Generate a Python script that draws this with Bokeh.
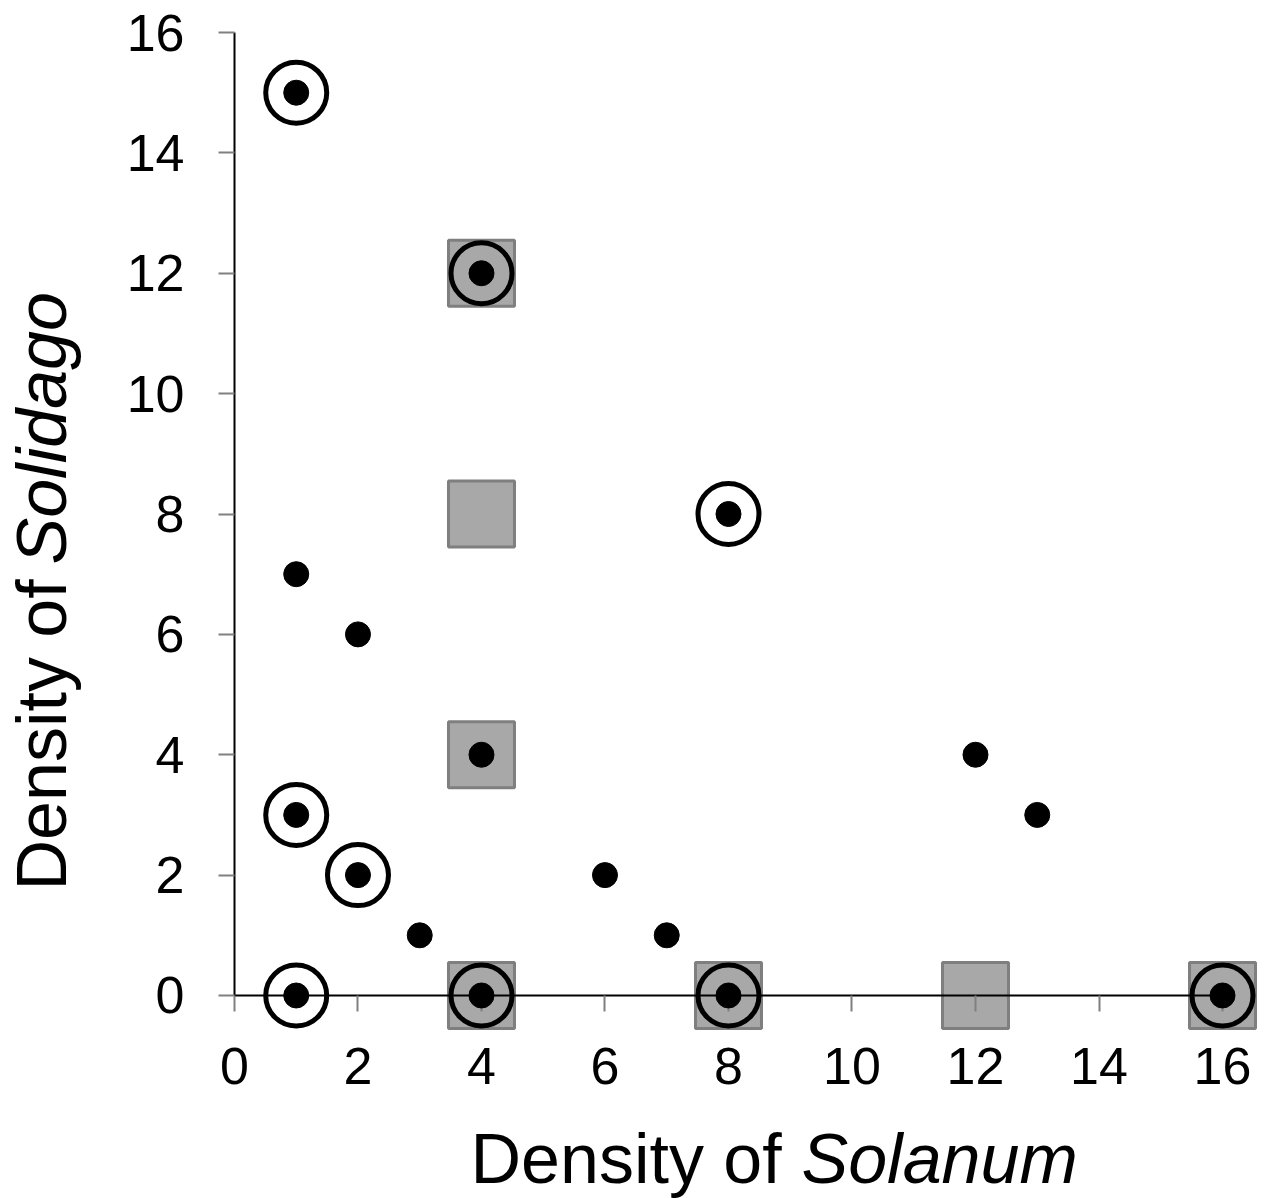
import math
from bokeh.plotting import figure
from bokeh.models import LinearAxis, FixedTicker, Range1d, Label
from bokeh.embed import file_html
from bokeh.resources import INLINE

# ---- data ----
dot_x = [1, 4, 8, 1, 2, 4, 1, 2, 3, 6, 7, 12, 13, 1, 4, 8, 16]
dot_y = [15, 12, 8, 7, 6, 4, 3, 2, 1, 2, 1, 4, 3, 0, 0, 0, 0]
square_x = [4, 4, 4, 4, 8, 12, 16]
square_y = [12, 8, 4, 0, 0, 0, 0]
ring_x = [1, 4, 8, 1, 2, 1, 4, 8, 16]
ring_y = [15, 12, 8, 3, 2, 0, 0, 0, 0]
x_ticks = [0, 2, 4, 6, 8, 10, 12, 14, 16]
y_ticks = [0, 2, 4, 6, 8, 10, 12, 14, 16]

W, H = 1269, 1198
FONT = "Liberation Sans"

p = figure(width=W, height=H, output_backend="svg", toolbar_location=None,
           x_axis_location=None, y_axis_location=None, title=None,
           x_range=Range1d(-3.789, 16.761), y_range=Range1d(-3.373, 16.532),
           min_border=0, min_border_left=0, min_border_right=0,
           min_border_top=0, min_border_bottom=0)
p.outline_line_color = None
p.xgrid.visible = False
p.ygrid.visible = False
p.background_fill_color = "white"
p.border_fill_color = "white"

def style_axis(ax):
    ax.axis_line_color = "black"
    ax.axis_line_width = 2
    ax.major_tick_line_color = "#808080"
    ax.major_tick_line_width = 2
    ax.major_tick_out = 16
    ax.major_tick_in = 0
    ax.minor_tick_line_color = None
    ax.major_label_text_font = FONT
    ax.major_label_text_font_size = "52px"
    ax.major_label_text_color = "black"

xaxis = LinearAxis(ticker=FixedTicker(ticks=x_ticks), fixed_location=0, bounds=(0, 16))
style_axis(xaxis)
xaxis.major_label_standoff = 37
yaxis = LinearAxis(ticker=FixedTicker(ticks=y_ticks), fixed_location=0, bounds=(0, 16))
style_axis(yaxis)
yaxis.major_label_standoff = 34
p.add_layout(xaxis, "below")
p.add_layout(yaxis, "left")

# grey squares
p.scatter(square_x, square_y, marker="square", size=66, fill_color="#a8a8a8",
          line_color="#7f7f7f", line_width=3)
# open rings
p.scatter(ring_x, ring_y, marker="circle", size=61, fill_color=None,
          line_color="black", line_width=5)
# black dots
dots = p.scatter(dot_x, dot_y, marker="circle", size=25, fill_color="black",
                 line_color="black", line_width=1)
dots.level = "overlay"

# axis titles (mixed roman / italic)
p.add_layout(Label(x=470, y=H - 1185 + 27, x_units="screen", y_units="screen",
                   text="Density of", text_font=FONT, text_font_size="70px",
                   text_color="black", text_baseline="alphabetic", text_align="left"))
p.add_layout(Label(x=801, y=H - 1185 + 27, x_units="screen", y_units="screen",
                   text="Solanum", text_font=FONT, text_font_size="70px",
                   text_font_style="italic",
                   text_color="black", text_baseline="alphabetic", text_align="left"))
p.add_layout(Label(x=68 - 27, y=H - 890, x_units="screen", y_units="screen",
                   text="Density of", text_font=FONT, text_font_size="70px",
                   angle=math.pi / 2,
                   text_color="black", text_baseline="alphabetic", text_align="left"))
p.add_layout(Label(x=68 - 27, y=H - 564, x_units="screen", y_units="screen",
                   text="Solidago", text_font=FONT, text_font_size="70px",
                   text_font_style="italic", angle=math.pi / 2,
                   text_color="black", text_baseline="alphabetic", text_align="left"))

open("out.html", "w").write(file_html(p, INLINE))
